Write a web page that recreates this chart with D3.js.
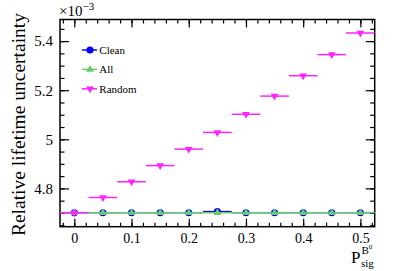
<!DOCTYPE html>
<html>
<head>
<meta charset="utf-8">
<script src="https://cdn.jsdelivr.net/npm/d3@7"></script>
<style>
  html, body { margin: 0; padding: 0; background: #fff; }
  svg text { font-family: "Liberation Serif", "Times New Roman", serif; }
</style>
</head>
<body>
<svg id="chart" width="399" height="271"></svg>
<script>
// values in units of 1e-3
const pSig   = [0, 0.05, 0.1, 0.15, 0.2, 0.25, 0.3, 0.35, 0.4, 0.45, 0.5];
const clean  = [4.701, 4.701, 4.701, 4.701, 4.701, 4.706, 4.701, 4.701, 4.701, 4.701, 4.701];
const allEv  = [4.701, 4.701, 4.701, 4.701, 4.701, 4.701, 4.701, 4.701, 4.701, 4.701, 4.701];
const random = [4.701, 4.763, 4.827, 4.893, 4.960, 5.028, 5.102, 5.176, 5.259, 5.345, 5.433];
const seriesNames = ["Clean", "All", "Random"];
const xTicks = [0, 0.1, 0.2, 0.3, 0.4, 0.5];
const yTicks = [4.8, 5.0, 5.2, 5.4];
const halfBin = 0.025;

const W = 399, H = 271, M = {t:19.5, r:24.3, b:44.3, l:60};
const innerW = W - M.l - M.r, innerH = H - M.t - M.b;

const svg = d3.select("#chart");
const g = svg.append("g").attr("transform", `translate(${M.l},${M.t})`);

const x = d3.scaleLinear().domain([-0.025, 0.525]).range([0, innerW]);
const y = d3.scaleLinear().domain([4.644, 5.488]).range([innerH, 0]);

const xMinor = d3.range(-0.02, 0.521, 0.02).map(v => +v.toFixed(2));
const yMinor = d3.range(4.65, 5.48, 0.05).map(v => +v.toFixed(2));

function styleAxis(sel) {
  sel.select(".domain").remove();
  sel.selectAll("line").attr("stroke", "#000").attr("stroke-width", 1.2);
}

// bottom axis
g.append("g").attr("transform", `translate(0,${innerH})`)
  .call(d3.axisBottom(x).tickValues(xTicks).tickSize(-8).tickPadding(6.5)
    .tickFormat(d => d === 0 ? "0" : d3.format(".1f")(d)))
  .call(styleAxis)
  .call(s => s.selectAll("text").attr("font-size", 14).attr("fill", "#000"));
g.append("g").attr("transform", `translate(0,${innerH})`)
  .call(d3.axisBottom(x).tickValues(xMinor).tickSize(-4).tickFormat(""))
  .call(styleAxis);
// top axis
g.append("g")
  .call(d3.axisTop(x).tickValues(xTicks).tickSize(-8).tickFormat(""))
  .call(styleAxis);
g.append("g")
  .call(d3.axisTop(x).tickValues(xMinor).tickSize(-4).tickFormat(""))
  .call(styleAxis);
// left axis
g.append("g")
  .call(d3.axisLeft(y).tickValues(yTicks).tickSize(-9).tickPadding(7)
    .tickFormat(d => d === 5 ? "5" : d3.format(".1f")(d)))
  .call(styleAxis)
  .call(s => s.selectAll("text").attr("font-size", 15).attr("fill", "#000"));
g.append("g")
  .call(d3.axisLeft(y).tickValues(yMinor).tickSize(-4.5).tickFormat(""))
  .call(styleAxis);
// right axis
g.append("g").attr("transform", `translate(${innerW},0)`)
  .call(d3.axisRight(y).tickValues(yTicks).tickSize(-9).tickFormat(""))
  .call(styleAxis);
g.append("g").attr("transform", `translate(${innerW},0)`)
  .call(d3.axisRight(y).tickValues(yMinor).tickSize(-4.5).tickFormat(""))
  .call(styleAxis);

// frame
g.append("rect").attr("width", innerW).attr("height", innerH)
  .attr("fill", "none").attr("stroke", "#000").attr("stroke-width", 1.5);

// series
const series = [
  {name: seriesNames[0], vals: clean,  color: "#0000ff", marker: "circle", lw: 1.2},
  {name: seriesNames[1], vals: allEv,  color: "#66cc66", marker: "up", lw: 1.5},
  {name: seriesNames[2], vals: random, color: "#ff22ff", marker: "down", lw: 1.5}
];

const sym = {
  circle: d3.symbol(d3.symbolCircle, 40)(),
  up: d3.symbol(d3.symbolTriangle, 26)(),
  down: d3.symbol(d3.symbolTriangle, 26)()
};

function drawMarker(sel, s) {
  sel.append("path").attr("d", sym[s.marker]).attr("fill", s.color)
    .attr("transform", s.marker === "down" ? "rotate(180)" : null);
}

series.forEach(s => {
  const sg = g.append("g");
  sg.selectAll("line").data(pSig.map((p, i) => [p, s.vals[i]])).join("line")
    .attr("x1", d => x(d[0] - halfBin)).attr("x2", d => x(d[0] + halfBin))
    .attr("y1", d => y(d[1])).attr("y2", d => y(d[1]))
    .attr("stroke", s.color).attr("stroke-width", s.lw);
  sg.selectAll("g").data(pSig.map((p, i) => [p, s.vals[i]])).join("g")
    .attr("transform", d => `translate(${x(d[0])},${y(d[1])})`)
    .each(function() { drawMarker(d3.select(this), s); });
});

// legend
const leg = svg.append("g");
series.forEach((s, i) => {
  const ly = 50 + i * 19.4;
  leg.append("line").attr("x1", 82).attr("x2", 97).attr("y1", ly).attr("y2", ly)
    .attr("stroke", s.color).attr("stroke-width", 1.5);
  const mg = leg.append("g").attr("transform", `translate(90,${ly})`);
  drawMarker(mg, s);
  leg.append("text").attr("x", 99.3).attr("y", ly + 4).attr("font-size", 11)
    .attr("fill", "#000").text(s.name);
});

// exponent label
svg.append("text").attr("x", 59).attr("y", 16).attr("font-size", 15).attr("fill", "#000")
  .text("×10")
  .append("tspan").attr("dy", -6).attr("font-size", 11).text("−3");

// y title
svg.append("text")
  .attr("transform", "translate(25,13) rotate(-90)")
  .attr("text-anchor", "end").attr("font-size", 19.5).attr("fill", "#000")
  .text("Relative lifetime uncertainty");

// x title
svg.append("text").attr("x", 351).attr("y", 262.5).attr("font-size", 17).attr("fill", "#000")
  .text("P");
svg.append("text").attr("x", 361.5).attr("y", 253.5).attr("font-size", 11).attr("fill", "#000")
  .text("B").append("tspan").attr("dy", -5).attr("font-size", 7).text("0");
svg.append("text").attr("x", 361).attr("y", 266.5).attr("font-size", 11).attr("fill", "#000")
  .text("sig");
</script>
</body>
</html>
